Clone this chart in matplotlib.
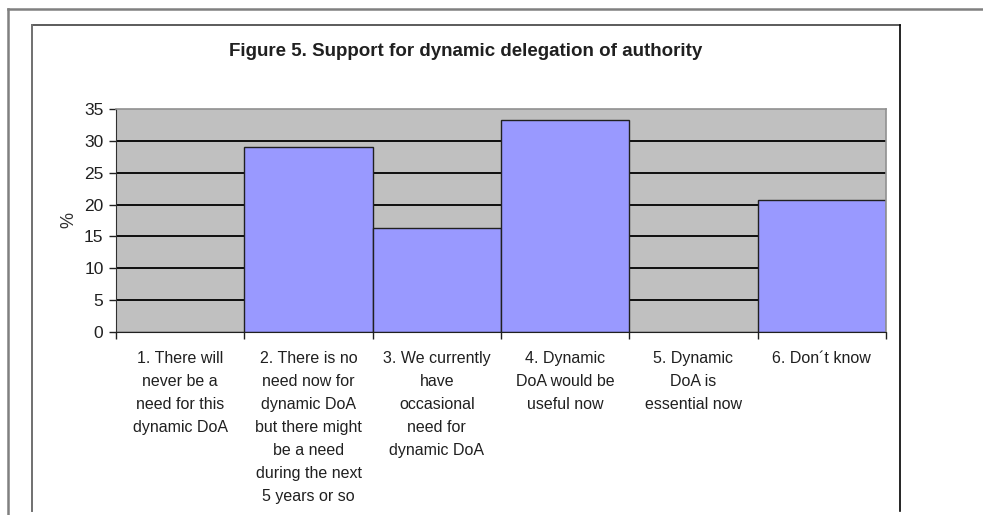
import matplotlib
matplotlib.use("Agg")
import matplotlib.pyplot as plt
from matplotlib.lines import Line2D

plt.rcParams['font.family'] = ['Liberation Sans', 'DejaVu Sans']

# data
categories = [
    "1. There will\nnever be a\nneed for this\ndynamic DoA",
    "2. There is no\nneed now for\ndynamic DoA\nbut there might\nbe a need\nduring the next\n5 years or so",
    "3. We currently\nhave\noccasional\nneed for\ndynamic DoA",
    "4. Dynamic\nDoA would be\nuseful now",
    "5. Dynamic\nDoA is\nessential now",
    "6. Don\u00b4t know",
]
percent = [0, 29.0, 16.4, 33.3, 0, 20.7]
y_ticks = [0, 5, 10, 15, 20, 25, 30, 35]

W, H = 983, 515


def main():
    fig = plt.figure(figsize=(W / 100, H / 100), dpi=100)

    # page frame lines (pixel coords -> figure fraction)
    def px_line(x0, y0, x1, y1, color, lw):
        fig.add_artist(Line2D([x0 / W, x1 / W], [1 - y0 / H, 1 - y1 / H],
                              color=color, lw=lw, transform=fig.transFigure))

    px_line(8, 9, W, 9, '#808080', 1.8)
    px_line(8, 9, 8, H, '#808080', 1.8)
    px_line(32, 25, 900, 25, '#404040', 1.2)
    px_line(32, 25, 32, 511, '#707070', 1.4)
    px_line(900, 25, 900, 511, '#000000', 1.2)

    left, right, top, bottom = 116, 886, 109, 332
    ax = fig.add_axes([left / W, 1 - bottom / H, (right - left) / W, (bottom - top) / H])
    ax.set_facecolor('#C0C0C0')

    x = list(range(len(categories)))
    for v in y_ticks[1:-1]:
        ax.axhline(v, color='black', lw=1.3, zorder=1)
    ax.bar(x, percent, width=1.0, color='#9999FF', edgecolor='#202020',
           linewidth=1.0, zorder=2)

    ax.set_xlim(-0.5, len(categories) - 0.5)
    ax.set_ylim(0, 35)
    ax.set_yticks(y_ticks)
    ax.tick_params(axis='y', length=5, width=1, labelsize=12.5, pad=4, colors='#202020')

    ax.set_xticks([i - 0.5 for i in range(len(categories) + 1)])
    ax.set_xticklabels([])
    ax.tick_params(axis='x', which='major', length=5, width=1, colors='#202020')
    ax.set_xticks(x, minor=True)
    ax.set_xticklabels(categories, minor=True, fontsize=11.5, linespacing=1.66,
                       va='top', ha='center', color='#202020')
    ax.tick_params(axis='x', which='minor', length=0, pad=14)

    for side in ['top', 'right']:
        ax.spines[side].set_color('#909090')
        ax.spines[side].set_linewidth(1.2)
    ax.spines['left'].set_color('#303030')
    ax.spines['bottom'].set_color('#202020')

    ax.set_ylabel('%', fontsize=13, color='#303030', labelpad=5)

    fig.text(466 / W, 1 - 52 / H, 'Figure 5. Support for dynamic delegation of authority',
             ha='center', va='center', fontsize=13.5, fontweight='bold', color='#202020')

    fig.savefig('out.png', dpi=100)


if __name__ == '__main__':
    main()
